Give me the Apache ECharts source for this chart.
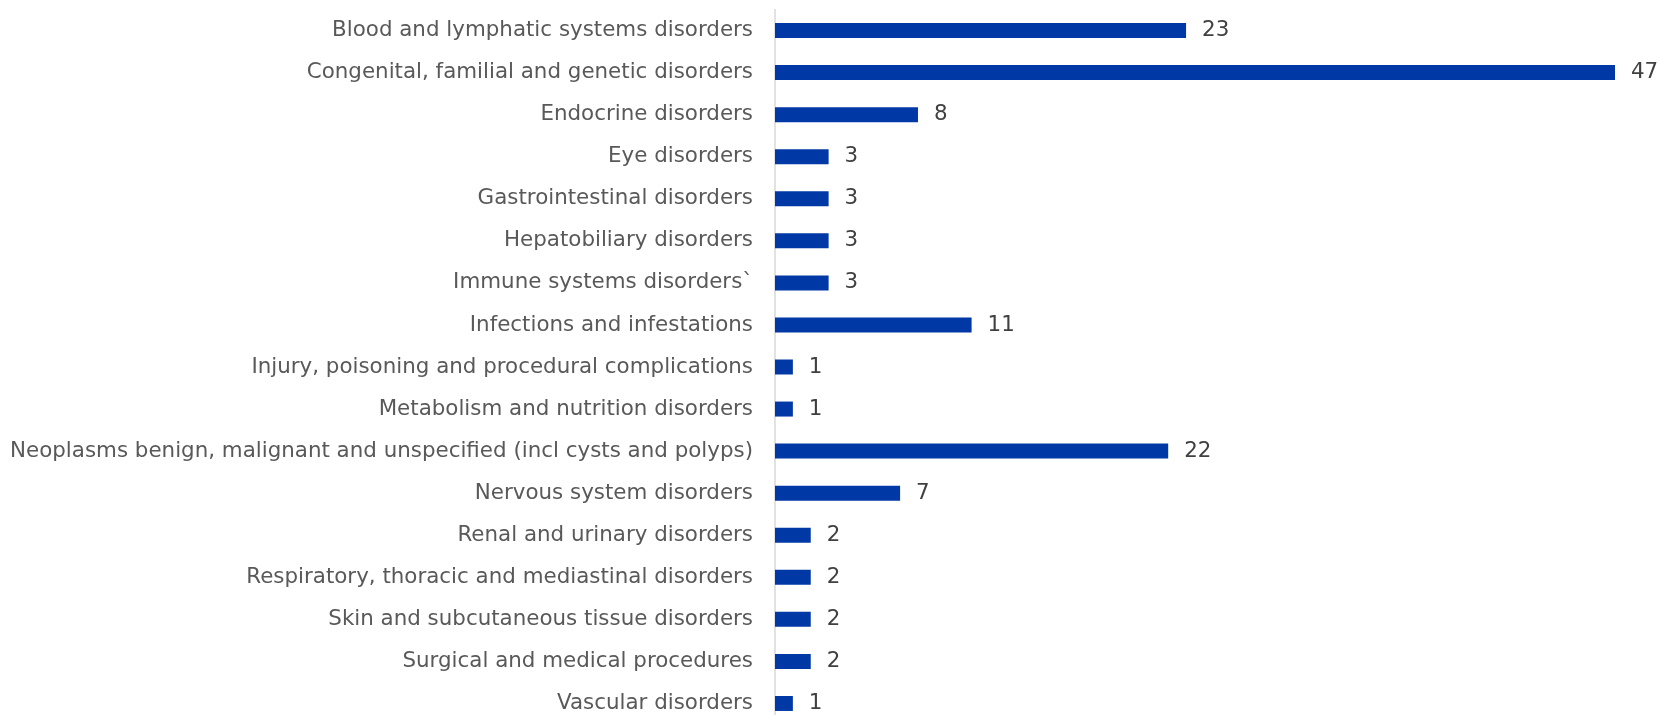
<!DOCTYPE html>
<html><head><meta charset="utf-8">
<script src="https://cdn.jsdelivr.net/npm/echarts@6/dist/echarts.min.js"></script>
<style>html,body{margin:0;padding:0;background:#fff}#c{width:1660px;height:715px}</style>
</head><body><div id="c"></div>
<script>
const categories = [
  "Blood and lymphatic systems disorders",
  "Congenital, familial and genetic disorders",
  "Endocrine disorders",
  "Eye disorders",
  "Gastrointestinal disorders",
  "Hepatobiliary disorders",
  "Immune systems disorders`",
  "Infections and infestations",
  "Injury, poisoning and procedural complications",
  "Metabolism and nutrition disorders",
  "Neoplasms benign, malignant and unspecified (incl cysts and polyps)",
  "Nervous system disorders",
  "Renal and urinary disorders",
  "Respiratory, thoracic and mediastinal disorders",
  "Skin and subcutaneous tissue disorders",
  "Surgical and medical procedures",
  "Vascular disorders"
];
const values = [23, 47, 8, 3, 3, 3, 3, 11, 1, 1, 22, 7, 2, 2, 2, 2, 1];

const chart = echarts.init(document.getElementById('c'), null, {renderer: 'canvas'});
chart.setOption({
  animation: false,
  grid: {left: 775, width: 840, top: 9.5, height: 715, containLabel: false, outerBoundsMode: 'none'},
  xAxis: {type: 'value', min: 0, max: 47, show: false, splitLine: {show: false}},
  yAxis: {
    type: 'category', data: categories, inverse: true,
    axisLine: {show: true, lineStyle: {color: '#d9d9d9', width: 1.5}},
    axisTick: {show: false},
    axisLabel: {color: '#595959', fontFamily: 'DejaVu Sans', fontSize: 21.4, margin: 22}
  },
  series: [{
    type: 'bar', data: values, barWidth: 15,
    itemStyle: {color: '#0039A6'},
    label: {show: true, position: 'right', distance: 16, color: '#404040', fontFamily: 'DejaVu Sans', fontSize: 21.4}
  }]
});
</script></body></html>
